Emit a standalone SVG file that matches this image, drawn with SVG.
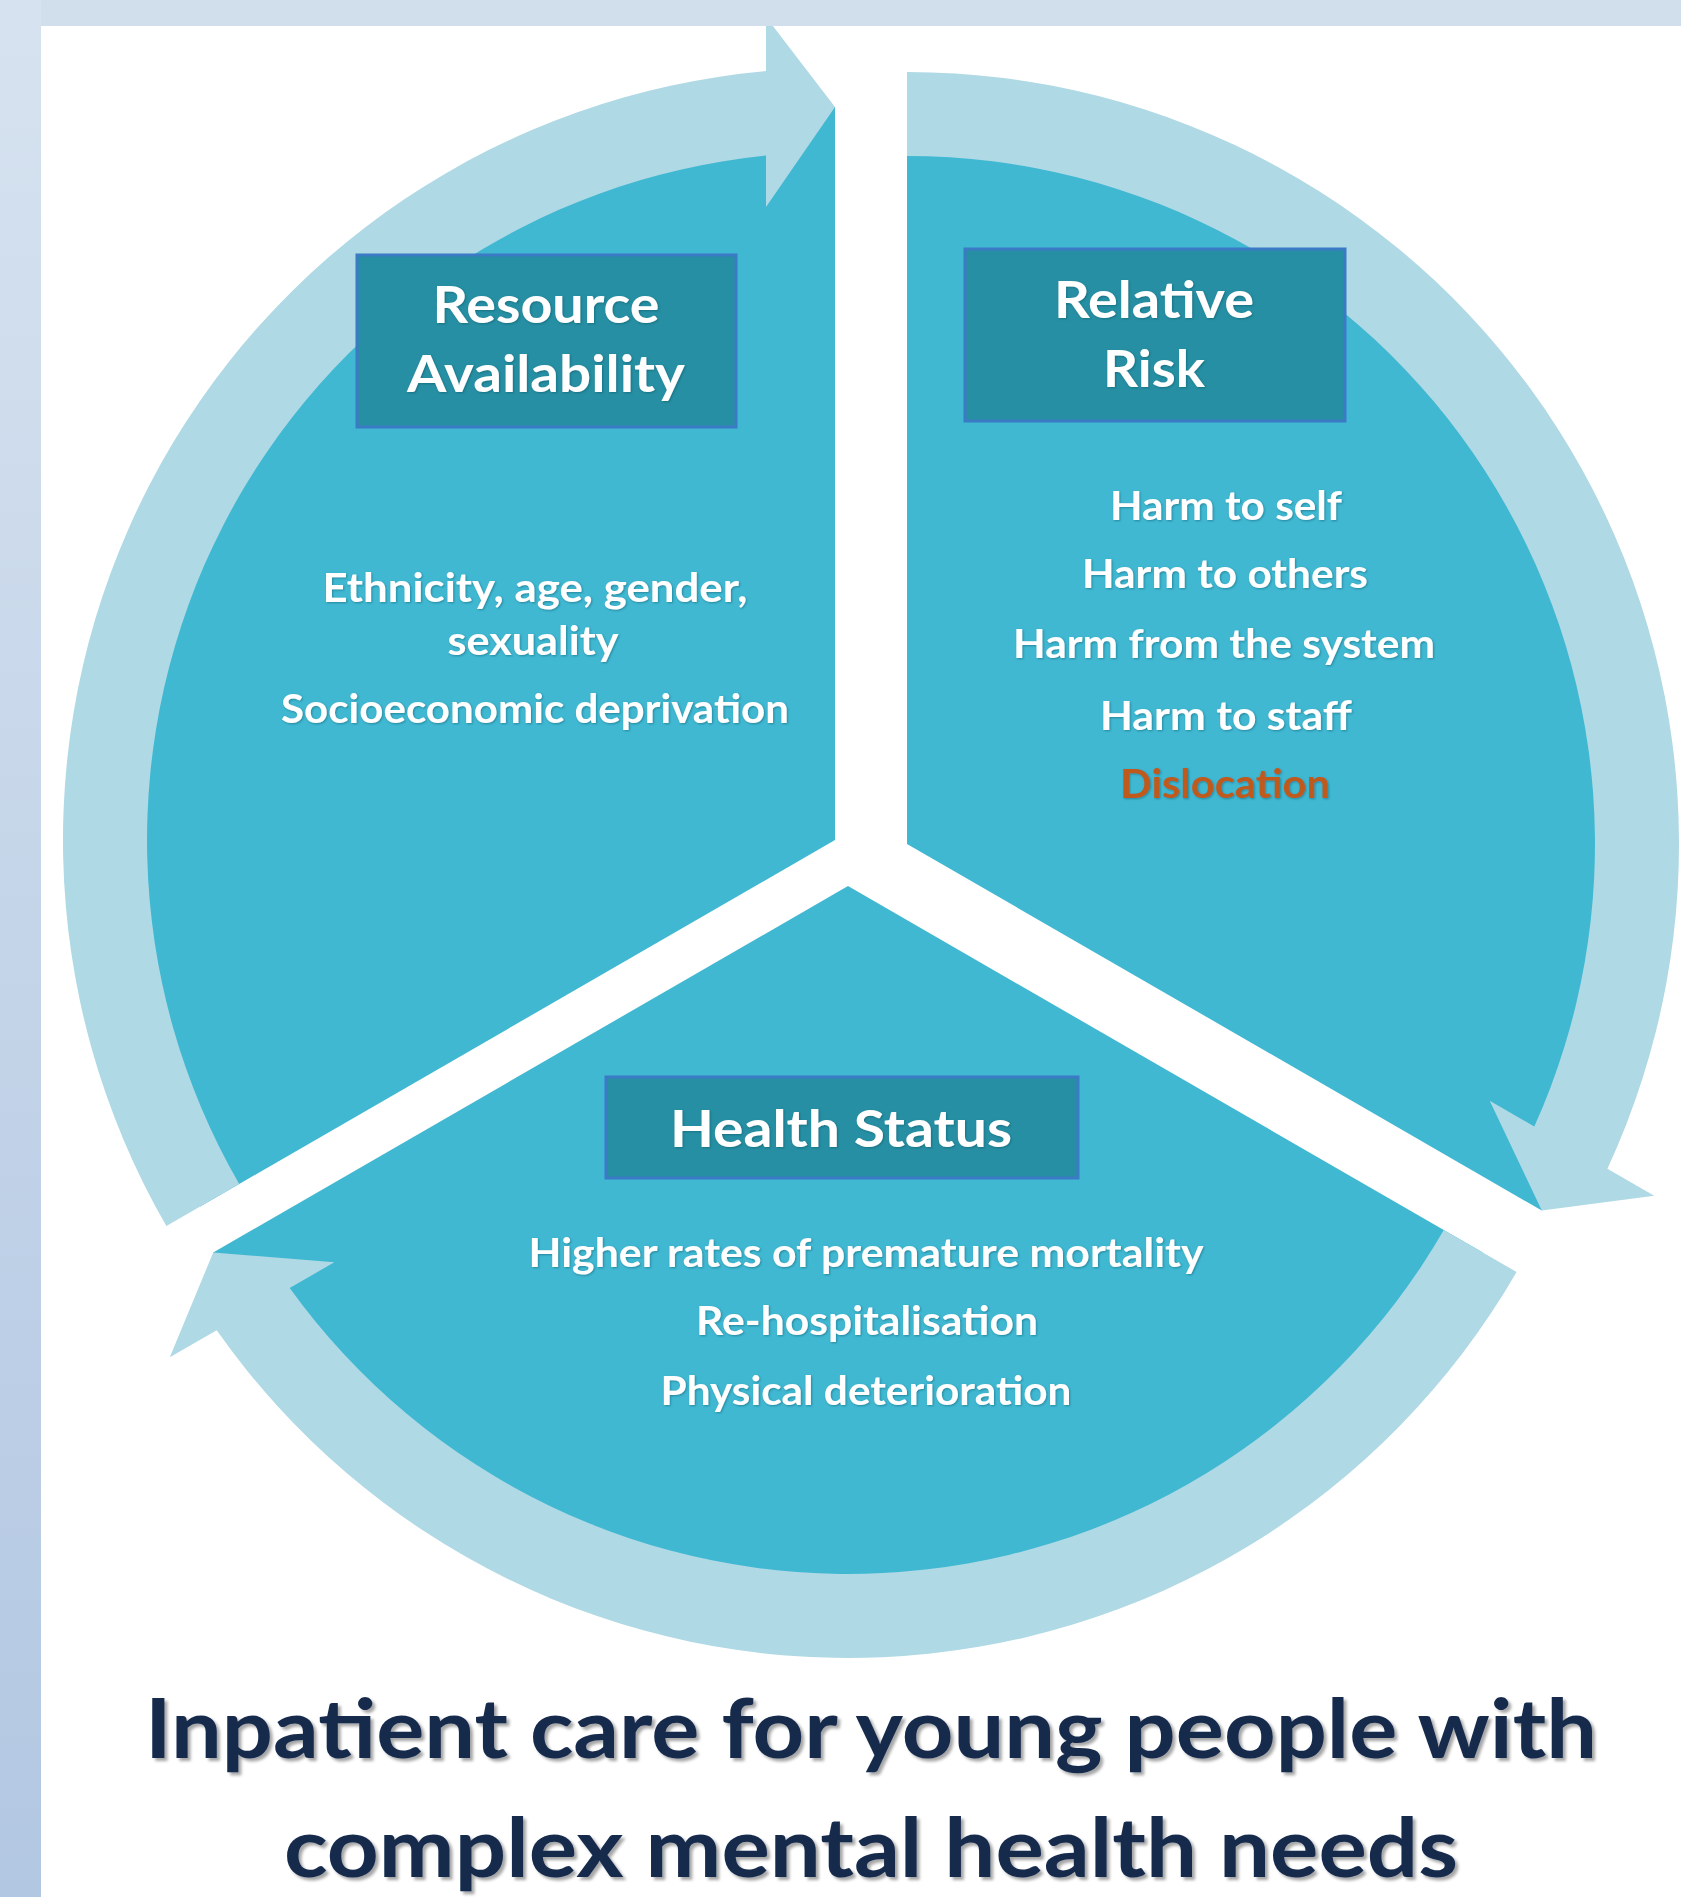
<svg xmlns="http://www.w3.org/2000/svg" width="1681" height="1897" viewBox="0 0 1681 1897">
<defs>
  <linearGradient id="frameGrad" x1="0" y1="0" x2="0" y2="1">
    <stop offset="0" stop-color="#d6e2ef"/>
    <stop offset="1" stop-color="#b2c7e2"/>
  </linearGradient>
  <filter id="titleShadow" x="-5%" y="-20%" width="110%" height="140%">
    <feDropShadow dx="3" dy="3" stdDeviation="1.5" flood-color="#000" flood-opacity="0.35"/>
  </filter>
  <filter id="txtShadow" x="-5%" y="-20%" width="110%" height="140%">
    <feDropShadow dx="1" dy="1" stdDeviation="0.8" flood-color="#0a4a5a" flood-opacity="0.45"/>
  </filter>
</defs>
<style>
  .sector{fill:#40b8d2}
  .arrow{fill:#afd9e5}
  .box{fill:#268fa3;stroke:#3b7ac4;stroke-width:3}
  .hdr{font-family:Lato,"Open Sans","Liberation Sans",sans-serif;font-weight:700;font-size:52px;fill:#ffffff;text-anchor:middle;filter:url(#txtShadow)}
  .body{font-family:Lato,"Open Sans","Liberation Sans",sans-serif;font-weight:700;font-size:40px;fill:#ffffff;text-anchor:middle;filter:url(#txtShadow)}
  .accent{fill:#c05a1c}
  .title{font-family:Lato,"Open Sans","Liberation Sans",sans-serif;font-weight:700;font-size:82px;fill:#15294b;text-anchor:middle;filter:url(#titleShadow)}
</style>
<rect x="0" y="0" width="1681" height="1897" fill="#ffffff"/>

<g id="segments">
  <path id="segment-resource" class="sector" d="M835,840 L835,107 A733,733 0 0 0 200.2,1206.5 Z"/>
  <path id="segment-risk" class="sector" d="M907,844 L907,111 A733,733 0 0 1 1541.8,1210.5 Z"/>
  <path id="segment-health" class="sector" d="M848,886 L1482.8,1252.5 A733,733 0 0 1 213.2,1252.5 Z"/>
</g>

<g id="connectors">
  <path id="arrow-1" class="arrow" d="M166.4,1226 A772,772 0 0 1 766,71.1 L766,17 L835,107 L766,207 L766,155.5 A688,688 0 0 0 239.2,1184 Z"/>
  <path id="arrow-2" class="arrow" d="M907,72 A772,772 0 0 1 1607.4,1168.7 L1654.2,1195.7 L1541.8,1210.5 L1489.7,1100.7 L1534.3,1126.5 A688,688 0 0 0 907,156 Z"/>
  <path id="arrow-3" class="arrow" d="M1516.6,1272 A772,772 0 0 1 216.7,1330.3 L169.8,1357.3 L213.2,1252.5 L334.3,1262.3 L289.7,1288 A688,688 0 0 0 1443.8,1230 Z"/>
</g>

<g id="node-resource">
  <rect class="box" x="357" y="255" width="379" height="172"/>
  <text class="hdr" x="546" y="323" textLength="227" lengthAdjust="spacingAndGlyphs">Resource</text>
  <text class="hdr" x="546" y="392" textLength="278" lengthAdjust="spacingAndGlyphs">Availability</text>
  <text class="body" x="535" y="602" textLength="425" lengthAdjust="spacingAndGlyphs">Ethnicity, age, gender,</text>
  <text class="body" x="533" y="655" textLength="171" lengthAdjust="spacingAndGlyphs">sexuality</text>
  <text class="body" x="535" y="723" textLength="508" lengthAdjust="spacingAndGlyphs">Socioeconomic deprivation</text>
</g>

<g id="node-risk">
  <rect class="box" x="965" y="249" width="380" height="172"/>
  <text class="hdr" x="1154" y="318" textLength="200" lengthAdjust="spacingAndGlyphs">Relative</text>
  <text class="hdr" x="1154" y="387" textLength="102" lengthAdjust="spacingAndGlyphs">Risk</text>
  <text class="body" x="1226" y="520" textLength="232" lengthAdjust="spacingAndGlyphs">Harm to self</text>
  <text class="body" x="1225" y="588" textLength="286" lengthAdjust="spacingAndGlyphs">Harm to others</text>
  <text class="body" x="1224" y="658" textLength="422" lengthAdjust="spacingAndGlyphs">Harm from the system</text>
  <text class="body" x="1226" y="730" textLength="252" lengthAdjust="spacingAndGlyphs">Harm to staff</text>
  <text class="body accent" x="1225" y="798" textLength="210" lengthAdjust="spacingAndGlyphs">Dislocation</text>
</g>

<g id="node-health">
  <rect class="box" x="606" y="1077" width="472" height="101"/>
  <text class="hdr" x="841" y="1147" textLength="342" lengthAdjust="spacingAndGlyphs">Health Status</text>
  <text class="body" x="866" y="1267" textLength="675" lengthAdjust="spacingAndGlyphs">Higher rates of premature mortality</text>
  <text class="body" x="867" y="1335" textLength="342" lengthAdjust="spacingAndGlyphs">Re-hospitalisation</text>
  <text class="body" x="866" y="1405" textLength="411" lengthAdjust="spacingAndGlyphs">Physical deterioration</text>
</g>

<g id="frame">
  <rect x="0" y="0" width="1681" height="26" fill="#d1dfec"/>
  <rect x="0" y="0" width="41" height="1897" fill="url(#frameGrad)"/>
</g>

<g id="title">
  <text class="title" x="871" y="1758" textLength="1452" lengthAdjust="spacingAndGlyphs">Inpatient care for young people with</text>
  <text class="title" x="871" y="1877" textLength="1174" lengthAdjust="spacingAndGlyphs">complex mental health needs</text>
</g>
</svg>
